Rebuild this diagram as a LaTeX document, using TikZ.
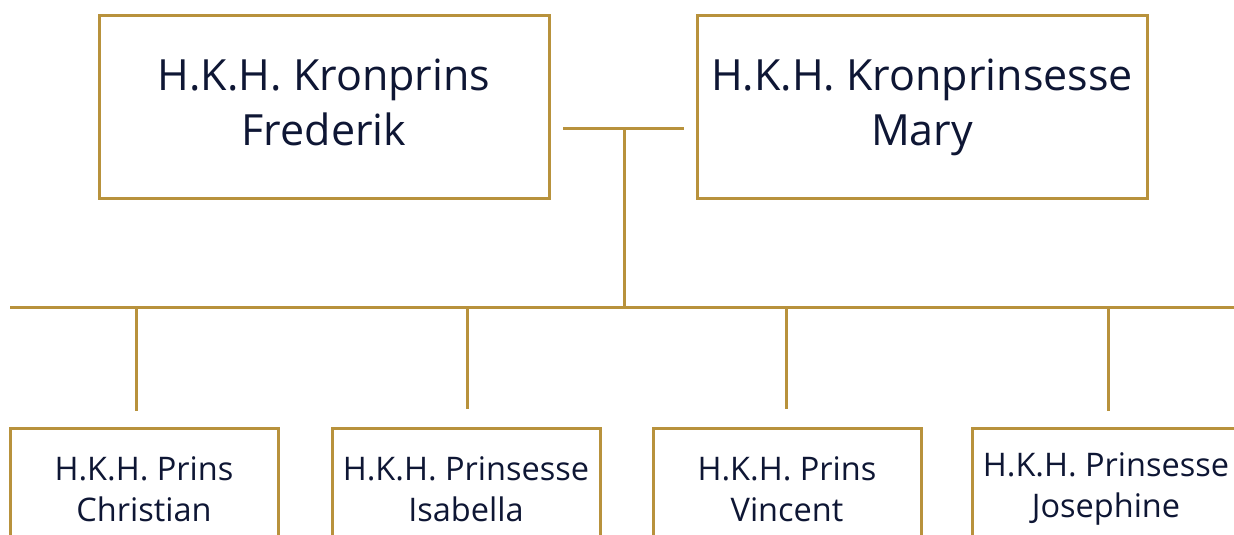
\documentclass[tikz,border=0pt]{standalone}
\usepackage{fontspec}
\setmainfont{Open Sans}
\definecolor{gold}{HTML}{B8923C}
\definecolor{ink}{HTML}{0E1634}
\tikzset{
  parent/.style={draw=gold, line width=3pt, text=ink, align=center,
    minimum width=450pt, minimum height=182pt,
    font=\fontsize{43}{55}\selectfont},
  child/.style={draw=gold, line width=3pt, text=ink, align=center,
    minimum width=268pt, minimum height=121pt, anchor=north,
    font=\fontsize{32.5}{41}\selectfont},
  tie/.style={draw=gold, line width=3pt}
}
\begin{document}
\begin{tikzpicture}[x=1pt,y=-1pt]
\useasboundingbox (0,0) rectangle (1234,535);
% parents
\node[parent] (frederik) at (324,107) {H.K.H. Kronprins\\Frederik\vphantom{y}};
\node[parent] (mary) at (922,107) {H.K.H. Kronprinsesse\\Mary};
% children
\node[child] (christian) at (144,427) {H.K.H. Prins\\Christian};
\node[child] (isabella) at (466,427) {H.K.H. Prinsesse\\Isabella};
\node[child] (vincent) at (787,427) {H.K.H. Prins\\Vincent};
\node[child] (josephine) at (1106,427) {H.K.H. Prinsesse\\Josephine};
% lines
\coordinate (wedL) at (563,128);
\coordinate (wedR) at (684,128);
\coordinate (wed) at (624,128);
\coordinate (barL) at (10,307);
\coordinate (barR) at (1240,307);
\coordinate (bar) at (624,307);
\draw[tie] (wedL) -- (wedR);
\draw[tie] (wed) -- (bar);
\draw[tie] (barL) -- (barR);
\draw[tie] ([xshift=-8pt]christian.north |- bar) -- ([xshift=-8pt,yshift=16pt]christian.north);
\draw[tie] ([xshift=1pt]isabella.north |- bar) -- ([xshift=1pt,yshift=18pt]isabella.north);
\draw[tie] ([xshift=-1pt]vincent.north |- bar) -- ([xshift=-1pt,yshift=18pt]vincent.north);
\draw[tie] ([xshift=2pt]josephine.north |- bar) -- ([xshift=2pt,yshift=16pt]josephine.north);
\end{tikzpicture}
\end{document}
